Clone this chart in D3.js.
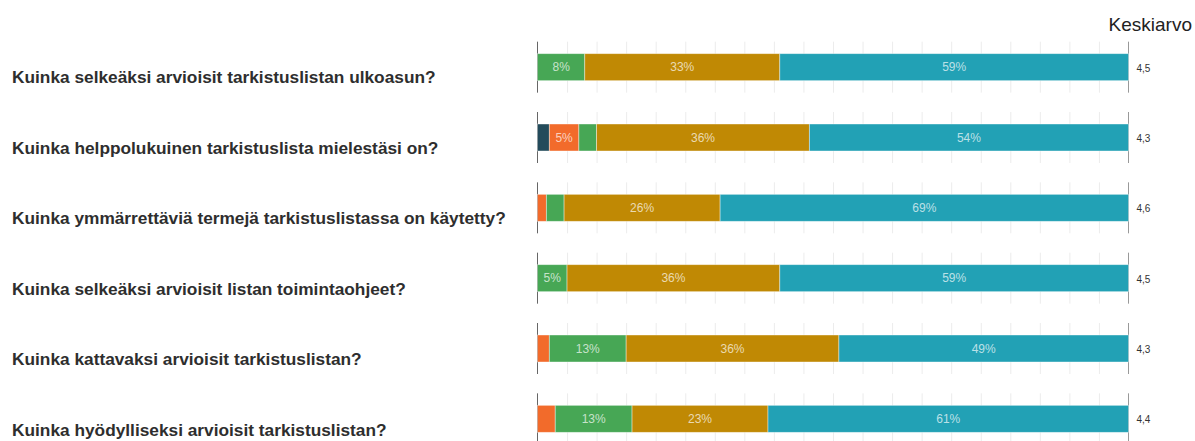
<!DOCTYPE html>
<html>
<head>
<meta charset="utf-8">
<script src="https://cdn.jsdelivr.net/npm/d3@7"></script>
<style>
  body { margin: 0; background: #fff; }
  svg { display: block; }
  .question { font-family: "Liberation Sans", Arial, sans-serif; font-weight: bold; font-size: 17.3px; fill: #2e2e2e; }
  .pct { font-family: "Liberation Sans Narrow", "Arial Narrow", "Liberation Sans", sans-serif; font-size: 12px; fill: #fff; fill-opacity: 0.7; }
  .avg { font-family: "Liberation Sans Narrow", "Arial Narrow", "Liberation Sans", sans-serif; font-size: 10px; fill: #333; }
  .head { font-family: "Liberation Sans", Arial, sans-serif; font-size: 19px; fill: #222; }
</style>
</head>
<body>
<div class="chart-container"></div>
<script>
const questions = [
  'Kuinka selkeäksi arvioisit tarkistuslistan ulkoasun?',
  'Kuinka helppolukuinen tarkistuslista mielestäsi on?',
  'Kuinka ymmärrettäviä termejä tarkistuslistassa on käytetty?',
  'Kuinka selkeäksi arvioisit listan toimintaohjeet?',
  'Kuinka kattavaksi arvioisit tarkistuslistan?',
  'Kuinka hyödylliseksi arvioisit tarkistuslistan?'
];

// share of answers (%) per rating level 1..5, one value per question
const level1 = [0, 2, 0, 0, 0, 0];
const level2 = [0, 5, 1.5, 0, 2, 3];
const level3 = [8, 3, 3, 5, 13, 13];
const level4 = [33, 36, 26.4, 36, 36, 23];
const level5 = [59, 54, 69.1, 59, 49, 61];

const averages = [4.5, 4.3, 4.6, 4.5, 4.3, 4.4];
const levels = ['1', '2', '3', '4', '5'];
const colors = ['#234b5b', '#f26b2b', '#47a755', '#c08904', '#22a1b5'];
const gridTicks = d3.range(5, 100, 5);

const width = 1195, height = 441;

const svg = d3.select('.chart-container').append('svg')
    .attr('width', width)
    .attr('height', height);

const rows = questions.map((q, i) => ({
  question: q, avg: averages[i],
  '1': level1[i], '2': level2[i], '3': level3[i], '4': level4[i], '5': level5[i]
}));

const x = d3.scaleLinear().domain([0, 100]).range([537.5, 1128.5]);

const y = d3.scaleBand()
    .domain(questions)
    .range([32, 454]);

const labelY = d3.scalePoint()
    .domain(questions)
    .range([83, 436]);

const barH = 27, rowH = 51;

const stack = d3.stack().keys(levels)(rows);

// header
svg.append('text').attr('class', 'head')
    .attr('x', 1192).attr('y', 31)
    .attr('text-anchor', 'end')
    .text('Keskiarvo');

// question labels
svg.append('g').selectAll('text')
  .data(questions)
  .enter()
  .append('text')
    .attr('class', 'question')
    .attr('x', 12)
    .attr('y', d => labelY(d))
    .text(d => d);

// one small chart per row
const row = svg.append('g').selectAll('g')
  .data(rows)
  .enter()
  .append('g')
    .attr('transform', d => 'translate(0,' + (y(d.question) + y.bandwidth() / 2) + ')');

// grid
const grid = d3.axisBottom(x).tickValues(gridTicks).tickSize(rowH).tickFormat('');
row.append('g')
    .attr('transform', 'translate(0,' + (-rowH / 2) + ')')
    .call(grid)
    .call(g => g.select('.domain').remove())
    .call(g => g.selectAll('line').attr('stroke', '#ececec'));

// left and right axis lines
row.append('line')
    .attr('x1', x(0)).attr('x2', x(0))
    .attr('y1', -rowH / 2).attr('y2', rowH / 2)
    .attr('stroke', '#666');
row.append('line')
    .attr('x1', x(100)).attr('x2', x(100))
    .attr('y1', -rowH / 2).attr('y2', rowH / 2)
    .attr('stroke', '#999');

// stacked segments
stack.forEach((layer, k) => {
  row.data(layer).append('rect')
      .attr('x', d => x(d[0]))
      .attr('y', -barH / 2)
      .attr('width', d => Math.max(0, x(d[1]) - x(d[0])))
      .attr('height', barH)
      .attr('fill', colors[k])
      .attr('stroke', '#fff')
      .attr('stroke-opacity', d => d[1] > d[0] ? 0.5 : 0)
      .attr('stroke-width', 0.8);

  row.data(layer).filter(d => d[1] - d[0] >= 4).append('text')
      .attr('class', 'pct')
      .attr('x', d => (x(d[0]) + x(d[1])) / 2)
      .attr('y', 1)
      .attr('text-anchor', 'middle')
      .attr('dominant-baseline', 'middle')
      .text(d => Math.round(d[1] - d[0]) + '%');
});

// averages
row.data(rows).append('text')
    .attr('class', 'avg')
    .attr('x', x(100) + 8)
    .attr('y', 2)
    .attr('dominant-baseline', 'middle')
    .text(d => d3.format('.1f')(d.avg).replace('.', ','));
</script>
</body>
</html>
